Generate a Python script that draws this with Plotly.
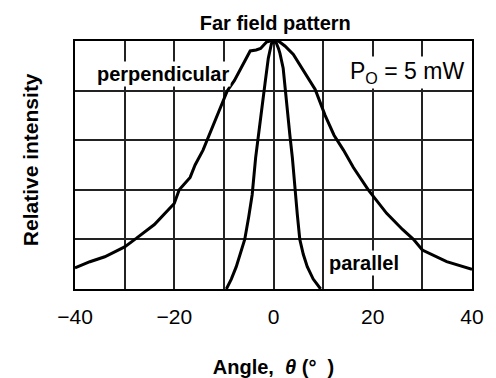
import plotly.graph_objects as go

# angle (deg) and relative intensity
perp_angle = [-40, -37, -34, -30, -27.6, -24, -20, -19, -16.8, -15.8, -14.2, -13, -11.4,
              -9.3, -7.9, -6, -4.7, -3.5, -2.6, -1.4, -0.7, 1.0, 2.3, 4.0, 6, 8.4, 10.4,
              12.2, 14.1, 16.1, 19.1, 22.8, 26, 28.2, 30, 34.9, 40]
perp_int = [0.085, 0.11, 0.13, 0.17, 0.205, 0.26, 0.345, 0.40, 0.45, 0.50, 0.56, 0.62, 0.70,
            0.80, 0.84, 0.91, 0.96, 0.964, 0.97, 0.996, 1.0, 1.0, 0.98, 0.946, 0.88, 0.805, 0.70,
            0.62, 0.56, 0.49, 0.40, 0.305, 0.24, 0.20, 0.157, 0.11, 0.079]

par_angle = [-9.5, -8.5, -7.5, -6.5, -5.8, -5.0, -4.3, -3.6, -3.1, -2.4, -1.7, -1.05, -0.4,
             0.4, 1.0, 1.3, 1.95, 2.6, 3.3, 3.8, 4.3, 4.8, 5.3, 6.0, 6.8, 8.0, 9.5]
par_int = [0, 0.04, 0.09, 0.15, 0.2, 0.29, 0.38, 0.53, 0.62, 0.72, 0.83, 0.93, 0.99,
           1.0, 0.97, 0.95, 0.89, 0.75, 0.62, 0.53, 0.40, 0.30, 0.20, 0.14, 0.09, 0.04, 0]

x_ticks = [-40, -20, 0, 20, 40]

FONT = "Liberation Sans, Arial, sans-serif"

fig = go.Figure()
fig.add_trace(go.Scatter(x=perp_angle, y=perp_int, mode="lines",
                         line=dict(color="black", width=3), showlegend=False))
fig.add_trace(go.Scatter(x=par_angle, y=par_int, mode="lines",
                         line=dict(color="black", width=3), showlegend=False))

def label(text, x, y, bold=True, size=20):
    fig.add_annotation(x=x, y=y, xref="x", yref="y", showarrow=False,
                       text="<b>%s</b>" % text if bold else text,
                       font=dict(family=FONT, size=size, color="black"),
                       bgcolor="white", borderpad=1)

label("perpendicular", -22.2, 0.868)
label("P<sub>O</sub> = 5 mW", 26.9, 0.875, bold=False, size=23)
label("parallel", 18.2, 0.105)

# y axis title placed by hand so it sits where the reference has it
fig.add_annotation(x=-0.113, y=0.52, xref="paper", yref="paper", showarrow=False,
                   xanchor="center", yanchor="middle",
                   text="<b>Relative intensity</b>", textangle=-90,
                   font=dict(family=FONT, size=21, color="black"))

fig.update_layout(
    width=496, height=378,
    margin=dict(l=75, r=24, t=41, b=89),
    paper_bgcolor="white", plot_bgcolor="white",
    font=dict(family=FONT, color="black"),
    title=dict(text="<b>Far field pattern</b>", x=0.555, xanchor="center",
               y=0.94, yanchor="middle", font=dict(size=20, family=FONT)),
)
fig.update_xaxes(
    range=[-40, 40], tickvals=x_ticks,
    showgrid=True, gridcolor="#222", gridwidth=1.5,
    showline=True, linecolor="black", linewidth=2, mirror=True,
    ticks="", ticklabelstandoff=8, tickfont=dict(size=21),
    title=dict(text="<b>Angle,  <i>θ</i> (°  )</b>", font=dict(size=20), standoff=34),
    zeroline=False, automargin=False,
)
fig.update_xaxes(minor=dict(dtick=10, showgrid=True, gridcolor="#222", gridwidth=1.5))
fig.update_yaxes(
    range=[0, 1], dtick=0.2, showticklabels=False,
    showgrid=True, gridcolor="#222", gridwidth=1.5,
    showline=True, linecolor="black", linewidth=2, mirror=True,
    zeroline=False, automargin=False,
)

fig.write_html("out.html", config={"displayModeBar": False},
               post_script="document.body.style.margin='0';")
